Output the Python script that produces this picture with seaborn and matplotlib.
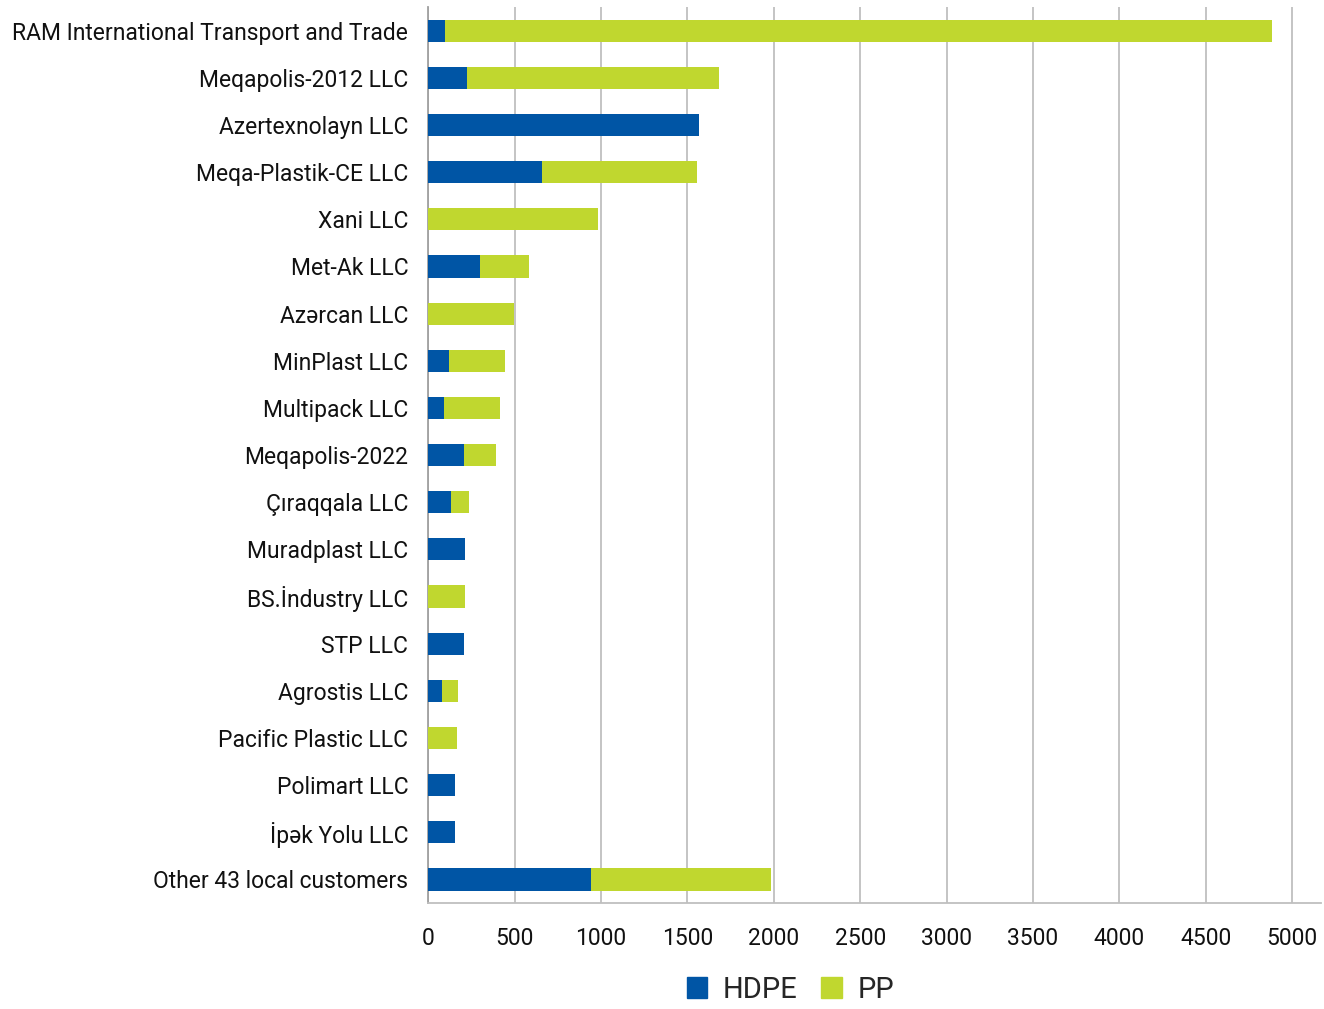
import matplotlib.pyplot as plt
import pandas as pd
import seaborn as sns
from matplotlib.patches import Patch

# data
companies = [
    'RAM International Transport and Trade', 'Meqapolis-2012 LLC', 'Azertexnolayn LLC',
    'Meqa-Plastik-CE LLC', 'Xani LLC', 'Met-Ak LLC', 'Azərcan LLC', 'MinPlast LLC',
    'Multipack LLC', 'Meqapolis-2022', 'Çıraqqala LLC', 'Muradplast LLC',
    'BS.İndustry LLC', 'STP LLC', 'Agrostis LLC', 'Pacific Plastic LLC',
    'Polimart LLC', 'İpək Yolu LLC', 'Other 43 local customers',
]
hdpe = [97, 224, 1565, 657, 0, 299, 0, 120, 91, 206, 131, 212, 0, 206, 79, 0, 154, 154, 940]
pp = [4785, 1456, 0, 896, 981, 283, 494, 323, 323, 185, 104, 0, 212, 0, 93, 166, 0, 0, 1041]

df = pd.DataFrame({'Company': companies, 'HDPE': hdpe, 'PP': pp})
df['Total'] = df['HDPE'] + df['PP']

blue = '#0055A5'
green = '#C0D72F'

sns.set_style('white')
plt.rcParams['font.family'] = ['Roboto', 'DejaVu Sans']

fig, ax = plt.subplots(figsize=(13.24, 10.09), dpi=100)
fig.subplots_adjust(left=0.3235, right=0.998, top=0.993, bottom=0.105)

# stacked bars: total (PP on top of HDPE) then HDPE over it
sns.barplot(data=df, y='Company', x='Total', color=green, width=0.47,
            saturation=1, orient='h', ax=ax, zorder=3, linewidth=0)
sns.barplot(data=df, y='Company', x='HDPE', color=blue, width=0.47,
            saturation=1, orient='h', ax=ax, zorder=4, linewidth=0)

ax.set_xlim(0, 5170)
ax.set_ylim(len(companies) - 0.5, -0.5)
ax.set_xticks(range(0, 5001, 500))
ax.set_xlabel('')
ax.set_ylabel('')

ax.grid(axis='x', color='#bfbfbf', linewidth=1.3, zorder=0)
ax.set_axisbelow(True)
for side in ['top', 'right']:
    ax.spines[side].set_visible(False)
ax.spines['left'].set_color('#a0a0a0')
ax.spines['bottom'].set_color('#bfbfbf')
ax.spines['left'].set_linewidth(1.3)
ax.spines['bottom'].set_linewidth(1.3)

ax.tick_params(axis='y', length=0, pad=14.5, labelsize=16.5, labelcolor='#111111')
ax.tick_params(axis='x', length=10, width=1.3, color='#bfbfbf', pad=7,
               labelsize=16.5, labelcolor='#111111')

handles = [Patch(color=blue, label='HDPE'), Patch(color=green, label='PP')]
fig.legend(handles=handles, loc='center', bbox_to_anchor=(0.597, 0.019),
           ncol=2, frameon=False, fontsize=21, handlelength=0.7, handleheight=0.7,
           columnspacing=0.8, handletextpad=0.55, borderpad=0.15)

plt.savefig('out.png', dpi=100)
